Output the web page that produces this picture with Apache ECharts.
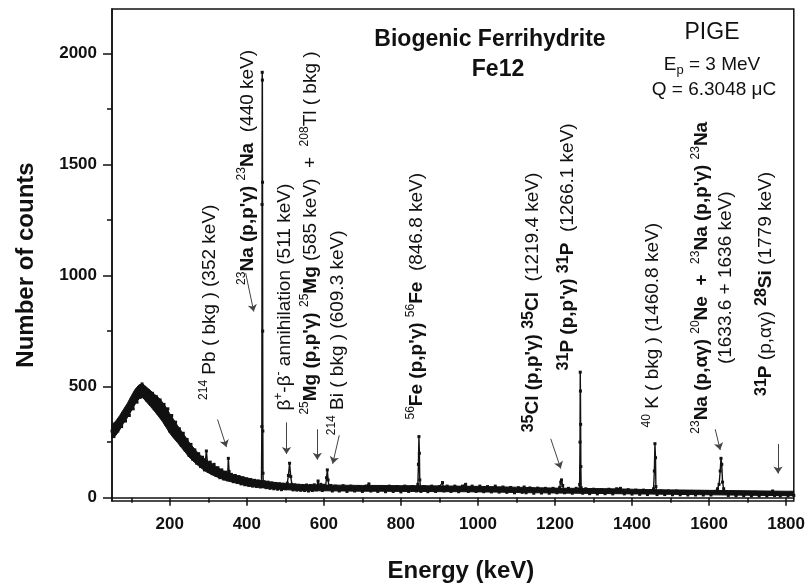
<!DOCTYPE html>
<html>
<head>
<meta charset="utf-8">
<script src="https://cdn.jsdelivr.net/npm/echarts@6/dist/echarts.min.js"></script>
<style>
  html, body { margin: 0; padding: 0; background: #fff; }
  #chart { width: 808px; height: 588px; }
</style>
</head>
<body>
<div id="chart"></div>
<script>
// spectrum, [energy keV, counts]
const lowBand = [
  [50,300],[55,275],[60,330],[65,300],[70,350],[75,320],[80,375],[85,345],[90,400],[95,370],
  [100,440],[105,400],[110,470],[115,430],[120,495],[125,460],[128,512],[130,470],[135,495],[140,440],
  [145,482],[150,420],[155,470],[160,400],[165,455],[170,380],[175,440],[180,360],[185,420],[190,330],
  [195,400],[200,300],[205,370],[210,280],[215,340],[220,258],[225,310],[230,235],[235,290],[240,215],
  [245,262],[250,190],[255,240],[260,172],[265,215],[270,155],[275,198],[280,140],[285,182],[290,125],
  [295,210],[300,118],[305,160],[310,108],[315,150],[320,100],[325,135],[330,90],[335,125],[340,84],
  [345,115],[350,80]
];
const naRegion = [
  [352,177],[354,118],[358,80],[360,105],[365,72],[370,100],[375,68],[380,95],[385,62],[390,90],
  [395,58],[400,85],[405,55],[410,82],[415,52],[420,78],[425,50],[430,75],[435,48],[438,70],
  [439,320],[439.5,1320],[440,1915],[440.4,1880],[440.8,1420],[441.2,750],[441.6,300],[442,110],[443,50],[445,72],
  [450,45],[455,70],[460,42],[465,66],[470,40],[475,64],[480,38],[485,62],[490,36],[495,60],
  [500,40],[505,65],[508,100],[511,155],[514,95],[517,60],[520,35],[525,58],[530,34],[535,56],
  [540,33],[545,55],[550,32],[555,57],[560,30],[565,55],[570,32],[575,58],[580,35],[585,75],
  [588,40],[592,60],[596,32],[600,56],[604,40],[607,90],[609,125],[611,80],[614,40],[618,55]
];
const midRegion = [
  [622,30],[630,52],[640,30],[650,54],[660,28],[670,52],[680,30],[690,50],[700,28],[710,52],
  [717,62],[722,30],[730,50],[740,28],[750,50],[760,27],[770,52],[780,28],[790,50],[800,26],
  [810,52],[820,28],[830,50],[840,30],[844,60],[845.5,150],[846.8,275],[848,200],[849,80],[852,28],
  [860,50],[870,27],[880,52],[890,28],[900,50],[908,68],[912,30],[920,52],[930,28],[940,52],
  [950,27],[960,52],[968,60],[975,28],[985,52],[995,28],[1005,52],[1015,27],[1025,50],[1035,26],
  [1045,52],[1055,25],[1065,48],[1075,24],[1085,46],[1095,22],[1105,45],[1115,24],[1120,48],[1125,22],
  [1135,44],[1145,20],[1155,43],[1165,21],[1175,42],[1185,20],[1195,42],[1205,22],[1212,45],[1215,70],
  [1217,80],[1220,55],[1225,22],[1235,42],[1245,20],[1255,42]
];
const highRegion = [
  [1262,35],[1264,60],[1265,250],[1265.6,565],[1266.1,480],[1266.6,330],[1267.2,140],[1268,45],[1272,20],[1280,40],
  [1290,18],[1300,38],[1310,17],[1320,36],[1330,18],[1340,38],[1350,17],[1360,40],[1370,42],[1380,17],
  [1390,36],[1400,16],[1410,34],[1420,15],[1430,34],[1440,14],[1450,32],[1456,40],[1458,120],[1459.5,243],
  [1461,180],[1462,50],[1465,14],[1475,30],[1485,14],[1495,30],[1505,13],[1515,30],[1525,13],[1535,28],
  [1545,12],[1555,28],[1565,12],[1575,27],[1585,12],[1595,27],[1605,12],[1615,28],[1622,40],[1626,60],
  [1629,120],[1631,177],[1633,150],[1635,70],[1638,40],[1642,25],[1650,10],[1660,25],[1670,9],[1680,24],
  [1690,9],[1700,24],[1710,8],[1720,24],[1730,8],[1740,22],[1750,8],[1760,22],[1765,30],[1770,10],
  [1779,22],[1785,8],[1795,20],[1805,8],[1815,20],[1820,10]
];

// dense core of the noisy continuum (lower / upper edge of the black band)
const bandKeV = [
  50, 60, 70, 80, 90, 100, 110, 120, 130, 140, 150, 160, 170, 180, 190, 200, 210, 220, 230, 240,
  250, 260, 270, 280, 290, 300, 310, 320, 330, 340, 350, 360, 370, 380, 390, 400,
  420, 440, 460, 480, 500, 520, 540, 560, 580, 600,
  650, 700, 750, 800, 850, 900, 950, 1000, 1050, 1100, 1150, 1200, 1250, 1300, 1350, 1400,
  1450, 1500, 1550, 1600, 1650, 1700, 1750, 1800, 1820
];
const bandLow = [
  270, 280, 305, 335, 360, 390, 420, 445, 450, 430, 410, 390, 368, 345, 318, 290, 268, 248, 226, 205,
  183, 166, 150, 136, 122, 112, 103, 95, 88, 81, 76, 71, 67, 63, 58, 54,
  49, 45, 41, 38, 36, 34, 32, 31, 31, 31,
  30, 29, 29, 28, 28, 27, 27, 26, 25, 23, 22, 21, 20, 19, 18, 17,
  16, 15, 14, 13, 12, 11, 10, 9, 9
];
const bandHigh = [
  330, 345, 370, 398, 425, 458, 488, 508, 512, 497, 482, 466, 452, 432, 408, 378, 352, 325, 300, 276,
  250, 228, 208, 190, 176, 164, 153, 140, 130, 120, 112, 106, 101, 97, 92, 88,
  81, 76, 71, 67, 64, 61, 59, 58, 58, 57,
  56, 55, 55, 54, 54, 53, 52, 51, 49, 47, 45, 43, 42, 41, 40, 38,
  36, 35, 34, 33, 32, 31, 30, 29, 29
];

const xMajorTicks = [200, 400, 600, 800, 1000, 1200, 1400, 1600, 1800];
const xMinorTicks = [100, 300, 500, 700, 900, 1100, 1300, 1500, 1700];
const yMajorTicks = [0, 500, 1000, 1500, 2000];
const yMinorTicks = [250, 750, 1250, 1750];

// arrows: [from, to] in keV / counts
const arrows = [
  [[324, 352], [347, 228]],
  [[397, 1011], [418, 838]],
  [[503, 339], [503, 197]],
  [[583, 308], [583, 171]],
  [[640, 281], [623, 153]],
  [[1189, 265], [1215, 131]],
  [[1616, 308], [1629, 215]],
  [[1779, 242], [1779, 109]]
];

// rotated peak labels, anchored at the start of the text (keV, counts)
const peakLabels = [
  { keV: 303, counts: 440, text: '{s|214}{n| Pb ( bkg ) (352 keV)}' },
  { keV: 402, counts: 958, text: "{s|23}{b|Na (p,p'γ) }{s|23}{b|Na}{n|  (440 keV)}" },
  { keV: 498, counts: 392, text: '{n|β}{s|+}{n|-β}{s|-}{n| annihilation (511 keV)}' },
  { keV: 565, counts: 374, text: "{s|25}{b|Mg (p,p'γ) }{s|25}{b|Mg}{n| (585 keV)  +  }{s|208}{n|Tl ( bkg )}" },
  { keV: 635, counts: 281, text: '{s|214}{n| Bi ( bkg ) (609.3 keV)}' },
  { keV: 842, counts: 352, text: "{s|56}{b|Fe (p,p'γ) }{s|56}{b|Fe}{n|  (846.8 keV)}" },
  { keV: 1142, counts: 294, text: "{bs|35}{b|Cl (p,p'γ) }{bs|35}{b|Cl}{n|  (1219.4 keV)}" },
  { keV: 1233, counts: 573, text: "{bs|31}{b|P (p,p'γ) }{bs|31}{b|P}{n|  (1266.1 keV)}" },
  { keV: 1453, counts: 316, text: '{s|40}{n| K ( bkg ) (1460.8 keV)}' },
  { keV: 1611, counts: 990, center: true,
    text: "{s|23}{b|Na (p,αγ) }{s|20}{b|Ne  +  }{s|23}{b|Na (p,p'γ) }{s|23}{b|Na}\n{n|(1633.6 + 1636 keV)}" },
  { keV: 1748, counts: 458, text: '{bs|31}{b|P }{n|(p,αγ) }{bs|28}{b|Si}{n| (1779 keV)}' }
];

const FONT = '"Liberation Sans", Arial, sans-serif';
const INK = '#111';

const rich = {
  n: { fontSize: 19, fontFamily: FONT, fill: INK, lineHeight: 24 },
  b: { fontSize: 19, fontFamily: FONT, fontWeight: 'bold', fill: INK, lineHeight: 24 },
  s: { fontSize: 12, fontFamily: FONT, fill: INK, lineHeight: 14, verticalAlign: 'top' },
  bs: { fontSize: 16, fontFamily: FONT, fontWeight: 'bold', fill: INK, lineHeight: 18, verticalAlign: 'top' },
  sub: { fontSize: 13, fontFamily: FONT, fill: INK, lineHeight: 13, verticalAlign: 'bottom' }
};

const chart = echarts.init(document.getElementById('chart'));

const spectrum = lowBand.concat(naRegion, midRegion, highRegion);

const tickStyle = { color: INK, width: 1.5 };
const plain = function (v) { return String(v); };

// the noisy continuum drawn as one filled polygon through the axis scales
function renderBand(params, api) {
  if (params.dataIndex > 0) return null;
  const pts = [];
  for (let i = 0; i < bandKeV.length; i++) pts.push(api.coord([bandKeV[i], bandHigh[i]]));
  for (let i = bandKeV.length - 1; i >= 0; i--) pts.push(api.coord([bandKeV[i], bandLow[i]]));
  return { type: 'polygon', shape: { points: pts }, style: { fill: INK, stroke: INK, lineWidth: 1 } };
}

const option = {
  animation: false,
  grid: { left: 112, right: 12, top: 9, bottom: 78, show: true, borderColor: INK, borderWidth: 1.5 },
  xAxis: [
    {
      type: 'value', min: 50, max: 1820, position: 'bottom',
      axisLine: { show: true, lineStyle: { color: INK, width: 1.5 } },
      axisTick: { show: true, length: 8, customValues: xMajorTicks, lineStyle: tickStyle },
      axisLabel: { customValues: xMajorTicks, formatter: plain, fontSize: 17, fontWeight: 'bold', color: INK, fontFamily: FONT, margin: 15 },
      splitLine: { show: false },
      name: 'Energy (keV)', nameLocation: 'middle', nameGap: 58,
      nameTextStyle: { fontSize: 24, fontWeight: 'bold', color: INK, fontFamily: FONT, padding: [0, 0, 0, 16] }
    },
    {
      type: 'value', min: 50, max: 1820, position: 'bottom',
      axisLine: { show: false },
      axisTick: { show: true, length: 5, customValues: xMinorTicks, lineStyle: tickStyle },
      axisLabel: { show: false },
      splitLine: { show: false }
    }
  ],
  yAxis: [
    {
      type: 'value', min: -15, max: 2200, position: 'left',
      axisLine: { show: true, lineStyle: { color: INK, width: 1.5 } },
      axisTick: { show: true, length: 9, customValues: yMajorTicks, lineStyle: tickStyle },
      axisLabel: { customValues: yMajorTicks, formatter: plain, fontSize: 17, fontWeight: 'bold', color: INK, fontFamily: FONT, margin: 15 },
      splitLine: { show: false },
      name: 'Number of counts', nameLocation: 'middle', nameGap: 74, nameRotate: 90,
      nameTextStyle: { fontSize: 24, fontWeight: 'bold', color: INK, fontFamily: FONT, padding: [0, 20, 0, 0] }
    },
    {
      type: 'value', min: -15, max: 2200, position: 'left',
      axisLine: { show: false },
      axisTick: { show: true, length: 5, customValues: yMinorTicks, lineStyle: tickStyle },
      axisLabel: { show: false },
      splitLine: { show: false }
    }
  ],
  series: [
    {
      type: 'custom',
      xAxisIndex: 0, yAxisIndex: 0,
      silent: true, z: 1,
      renderItem: renderBand,
      encode: { x: 0, y: 1 },
      data: [[bandKeV[0], bandLow[0]]]
    },
    {
      type: 'line',
      xAxisIndex: 0, yAxisIndex: 0, z: 2,
      data: spectrum,
      symbol: 'rect', symbolSize: 3, showAllSymbol: true,
      itemStyle: { color: INK },
      lineStyle: { color: INK, width: 1.4 },
      markLine: {
        silent: true,
        symbol: ['none', 'arrow'],
        symbolSize: 7,
        label: { show: false },
        lineStyle: { color: '#444', width: 1, type: 'solid' },
        data: arrows.map(a => [{ coord: a[0] }, { coord: a[1] }])
      }
    }
  ]
};

chart.setOption(option);

const graphics = peakLabels.map(function (l) {
  const p = chart.convertToPixel({ xAxisIndex: 0, yAxisIndex: 0 }, [l.keV, l.counts]);
  return {
    type: 'text', x: p[0], y: p[1], rotation: Math.PI / 2, silent: true,
    style: {
      text: l.text, rich: rich,
      align: l.center ? 'center' : 'left', verticalAlign: 'middle'
    }
  };
});

// title block
graphics.push(
  { type: 'text', x: 490, y: 40, silent: true,
    style: { text: 'Biogenic Ferrihydrite', font: 'bold 23px ' + FONT, fill: INK, align: 'center', verticalAlign: 'middle' } },
  { type: 'text', x: 498, y: 70, silent: true,
    style: { text: 'Fe12', font: 'bold 23px ' + FONT, fill: INK, align: 'center', verticalAlign: 'middle' } },
  { type: 'text', x: 712, y: 33, silent: true,
    style: { text: 'PIGE', font: '23px ' + FONT, fill: INK, align: 'center', verticalAlign: 'middle' } },
  { type: 'text', x: 712, y: 65, silent: true,
    style: { text: '{n|E}{sub|p}{n| = 3 MeV}', rich: rich, align: 'center', verticalAlign: 'middle' } },
  { type: 'text', x: 714, y: 90, silent: true,
    style: { text: 'Q = 6.3048 μC', font: '19px ' + FONT, fill: INK, align: 'center', verticalAlign: 'middle' } }
);

chart.setOption({ graphic: graphics });

window.addEventListener('resize', function () {
  chart.resize();
});
</script>
</body>
</html>
